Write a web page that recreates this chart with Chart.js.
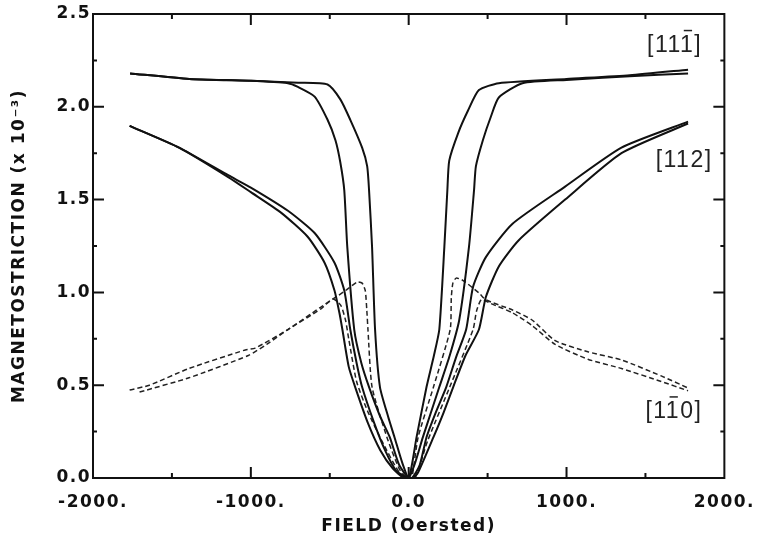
<!DOCTYPE html>
<html>
<head>
<meta charset="utf-8">
<script src="https://cdn.jsdelivr.net/npm/chart.js@4.4.1/dist/chart.umd.min.js"></script>
<style>
  html, body { margin: 0; padding: 0; background: #fff; }
  #wrap { width: 769px; height: 545px; }
</style>
</head>
<body>
<div id="wrap"><canvas id="chart" width="769" height="545"></canvas></div>
<script>
// Magnetostriction vs field, three directions, each with two sweep branches

// [11-1] direction
const field111A = [-1765, -1390, -1000, -765, -702, -596, -514, -464, -433, -408, -389, -345, -300, -251, -180, -120, -60, 0, 50, 113, 160, 194, 226, 245, 257, 314, 376, 445, 571, 1000, 1400, 1770];
const lambda111A = [2.18, 2.15, 2.14, 2.127, 2.107, 2.055, 1.93, 1.82, 1.70, 1.55, 1.245, 0.80, 0.62, 0.49, 0.33, 0.22, 0.07, 0.0, 0.22, 0.49, 0.66, 0.80, 1.245, 1.55, 1.71, 1.86, 1.98, 2.09, 2.127, 2.15, 2.17, 2.20];
const field111B = [-1765, -1390, -1000, -700, -514, -433, -370, -295, -263, -251, -232, -213, -182, -130, -90, -40, 0, 40, 90, 140, 194, 260, 320, 382, 414, 426, 470, 520, 571, 721, 1000, 1400, 1770];
const lambda111B = [2.18, 2.15, 2.14, 2.13, 2.12, 2.04, 1.93, 1.78, 1.68, 1.55, 1.245, 0.80, 0.49, 0.33, 0.22, 0.08, 0.0, 0.08, 0.22, 0.35, 0.49, 0.66, 0.85, 1.245, 1.55, 1.68, 1.82, 1.945, 2.05, 2.127, 2.145, 2.165, 2.18];

// [112] direction
const field112A = [-1768, -1455, -1141, -1000, -809, -640, -533, -470, -439, -420, -380, -339, -260, -180, -100, -30, 20, 70, 113, 170, 238, 300, 364, 408, 489, 658, 991, 1348, 1770];
const lambda112A = [1.897, 1.78, 1.62, 1.54, 1.43, 1.30, 1.16, 1.01, 0.89, 0.80, 0.60, 0.49, 0.30, 0.15, 0.05, 0.0, 0.0, 0.07, 0.22, 0.35, 0.49, 0.65, 0.80, 1.03, 1.19, 1.37, 1.57, 1.78, 1.92];
const field112B = [-1768, -1455, -1141, -1000, -765, -596, -470, -408, -370, -330, -295, -220, -150, -80, -10, 30, 60, 157, 220, 282, 360, 445, 489, 571, 696, 991, 1348, 1770];
const lambda112B = [1.897, 1.78, 1.63, 1.565, 1.44, 1.32, 1.16, 1.01, 0.80, 0.62, 0.49, 0.30, 0.15, 0.04, 0.0, 0.0, 0.03, 0.22, 0.35, 0.49, 0.66, 0.80, 0.975, 1.14, 1.28, 1.50, 1.75, 1.91];

// [1-10] direction
const field110A = [-1768, -1643, -1392, -1035, -972, -765, -558, -470, -400, -326, -295, -275, -265, -258, -232, -138, -60, -10, 40, 120, 260, 408, 430, 460, 520, 658, 784, 928, 1135, 1348, 1600, 1770];
const lambda110A = [0.474, 0.50, 0.59, 0.69, 0.70, 0.80, 0.92, 0.97, 1.01, 1.056, 1.05, 1.01, 0.90, 0.80, 0.49, 0.22, 0.05, 0.0, 0.0, 0.20, 0.49, 0.80, 0.90, 0.96, 0.94, 0.89, 0.82, 0.72, 0.64, 0.59, 0.52, 0.47];
const field110B = [-1705, -1392, -1016, -900, -765, -558, -480, -430, -400, -380, -330, -260, -170, -60, 0, 20, 60, 157, 263, 270, 280, 301, 345, 445, 489, 658, 784, 928, 1135, 1348, 1600, 1770];
const lambda110B = [0.463, 0.54, 0.66, 0.72, 0.80, 0.91, 0.965, 0.93, 0.85, 0.75, 0.52, 0.36, 0.20, 0.03, 0.0, 0.0, 0.22, 0.49, 0.80, 0.97, 1.05, 1.077, 1.064, 0.997, 0.96, 0.905, 0.85, 0.74, 0.68, 0.636, 0.55, 0.485];

// axis ticks
const xMajorTicks = [-1000, 0, 1000];
const xMinorTicks = [-1500, -500, 500, 1500];
const yMajorTicks = [0.5, 1.0, 1.5, 2.0];
const yMinorTicks = [0.25, 0.75, 1.25, 1.75, 2.25];

// direction labels: text, index of barred digit, position in data units
const dirLabels = ['[111]', '[112]', '[110]'];
const dirBars = [3, -1, 2];
const dirLabelX = [1685, 1745, 1680];
const dirLabelY = [2.33, 1.71, 0.356];

const INK = '#111';
const FONT = "'DejaVu Sans', sans-serif";

const pts = (xs, ys) => xs.map((x, i) => ({ x, y: ys[i] }));

function solid(xs, ys) {
    return {
        data: pts(xs, ys),
        borderColor: INK,
        borderWidth: 2,
        pointRadius: 0,
        tension: 0.2,
        fill: false,
    };
}

function dashed(xs, ys) {
    return {
        data: pts(xs, ys),
        borderColor: '#222',
        borderWidth: 1.5,
        borderDash: [5, 3],
        pointRadius: 0,
        tension: 0.2,
        fill: false,
    };
}

// wide lettering like the original plot
const spacing = {
    id: 'spacing',
    beforeUpdate(chart) { chart.ctx.letterSpacing = '1.5px'; },
    beforeDraw(chart) { chart.ctx.letterSpacing = '1.5px'; },
};

// frame with inward ticks on all four sides
const frame = {
    id: 'frame',
    afterDatasetsDraw(chart) {
        const { ctx, chartArea: a, scales: { x, y } } = chart;
        ctx.save();
        ctx.strokeStyle = INK;
        ctx.lineWidth = 2;
        ctx.strokeRect(a.left, a.top, a.right - a.left, a.bottom - a.top);
        ctx.beginPath();
        const xt = (v, len) => {
            const px = x.getPixelForValue(v);
            ctx.moveTo(px, a.bottom); ctx.lineTo(px, a.bottom - len);
            ctx.moveTo(px, a.top); ctx.lineTo(px, a.top + len);
        };
        const yt = (v, len) => {
            const py = y.getPixelForValue(v);
            ctx.moveTo(a.left, py); ctx.lineTo(a.left + len, py);
            ctx.moveTo(a.right, py); ctx.lineTo(a.right - len, py);
        };
        xMajorTicks.forEach(v => xt(v, 11));
        xMinorTicks.forEach(v => xt(v, 5));
        yMajorTicks.forEach(v => yt(v, 11));
        yMinorTicks.forEach(v => yt(v, 4));
        ctx.stroke();
        ctx.restore();
    },
};

// [hkl] labels, with the bar over a digit
const dirText = {
    id: 'dirText',
    afterDraw(chart) {
        const { ctx, scales: { x, y } } = chart;
        ctx.save();
        ctx.letterSpacing = '1.5px';
        ctx.font = "23px 'Liberation Sans', sans-serif";
        ctx.fillStyle = '#222';
        ctx.strokeStyle = '#222';
        ctx.lineWidth = 1.5;
        ctx.textBaseline = 'middle';
        ctx.textAlign = 'left';
        dirLabels.forEach((t, i) => {
            const w = ctx.measureText(t).width;
            const x0 = x.getPixelForValue(dirLabelX[i]) - w / 2;
            const y0 = y.getPixelForValue(dirLabelY[i]);
            ctx.fillText(t, x0, y0);
            const b = dirBars[i];
            if (b >= 0) {
                const bx = x0 + ctx.measureText(t.slice(0, b)).width;
                const cw = ctx.measureText(t[b]).width;
                ctx.beginPath();
                ctx.moveTo(bx + 2, y0 - 15);
                ctx.lineTo(bx + cw - 4, y0 - 15);
                ctx.stroke();
            }
        });
        ctx.restore();
    },
};

new Chart(document.getElementById('chart'), {
    type: 'line',
    data: {
        datasets: [
            solid(field111A, lambda111A),
            solid(field111B, lambda111B),
            solid(field112A, lambda112A),
            solid(field112B, lambda112B),
            dashed(field110A, lambda110A),
            dashed(field110B, lambda110B),
        ],
    },
    options: {
        responsive: false,
        animation: false,
        layout: { padding: { top: 14, right: 38, left: 0, bottom: 0 } },
        plugins: {
            legend: { display: false },
            tooltip: { enabled: false },
        },
        scales: {
            x: {
                type: 'linear',
                min: -2000,
                max: 2000,
                afterFit(s) { s.height = 67; },
                grid: { display: false, drawTicks: false },
                border: { display: false },
                ticks: {
                    stepSize: 1000,
                    padding: 14,
                    color: INK,
                    font: { family: FONT, size: 17, weight: 'bold' },
                    maxRotation: 0,
                    callback: v => (v === 0 ? '0.0' : v + '.'),
                },
                title: {
                    display: true,
                    text: 'FIELD (Oersted)',
                    color: INK,
                    font: { family: FONT, size: 17, weight: 'bold' },
                    padding: { top: 0, bottom: 8 },
                },
            },
            y: {
                type: 'linear',
                min: 0,
                max: 2.5,
                afterFit(s) { s.width = 93; },
                grid: { display: false, drawTicks: false },
                border: { display: false },
                ticks: {
                    stepSize: 0.5,
                    padding: 2,
                    color: INK,
                    font: { family: FONT, size: 17, weight: 'bold' },
                    callback: v => v.toFixed(1),
                },
                title: {
                    display: true,
                    text: 'MAGNETOSTRICTION (x 10⁻³)',
                    color: INK,
                    font: { family: FONT, size: 17, weight: 'bold' },
                    padding: { top: 9, bottom: 0 },
                },
            },
        },
    },
    plugins: [spacing, frame, dirText],
});
</script>
</body>
</html>
